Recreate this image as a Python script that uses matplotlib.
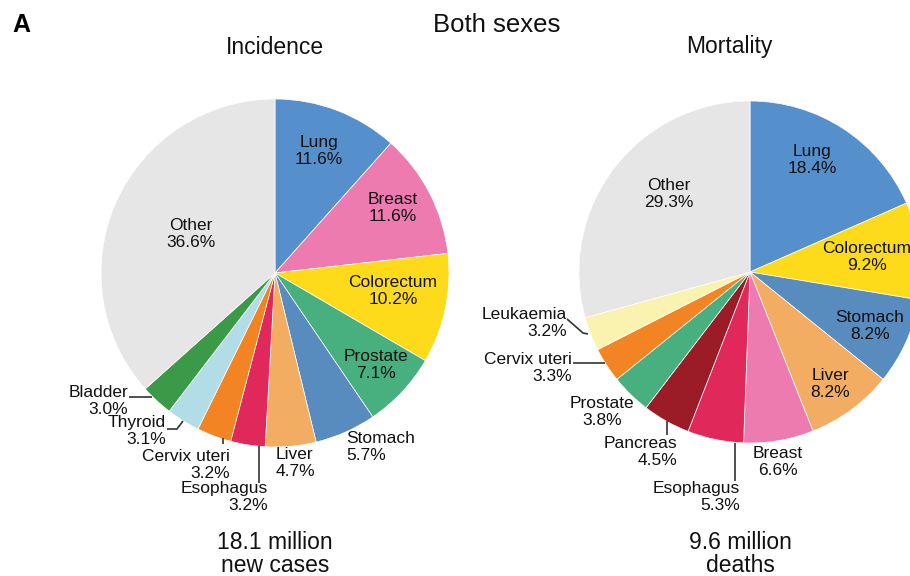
import matplotlib
matplotlib.use("Agg")
import matplotlib.pyplot as plt

plt.rcParams['font.family'] = ['Liberation Sans', 'DejaVu Sans']

# ---------------- data ----------------
inc_labels = ["Lung", "Breast", "Colorectum", "Prostate", "Stomach", "Liver",
              "Esophagus", "Cervix uteri", "Thyroid", "Bladder", "Other"]
inc_values = [11.6, 11.6, 10.2, 7.1, 5.7, 4.7, 3.2, 3.2, 3.1, 3.0, 36.6]

mort_labels = ["Lung", "Colorectum", "Stomach", "Liver", "Breast", "Esophagus",
               "Pancreas", "Prostate", "Cervix uteri", "Leukaemia", "Other"]
mort_values = [18.4, 9.2, 8.2, 8.2, 6.6, 5.3, 4.5, 3.8, 3.3, 3.2, 29.3]

inc_total = "18.1 million\nnew cases"
mort_total = "9.6 million\ndeaths"

# ---------------- styles ----------------
palette = {
    "Lung": "#5690CC", "Breast": "#EE7BB0", "Colorectum": "#FDDB1B",
    "Prostate": "#48AF7E", "Stomach": "#588BBE", "Liver": "#F2AD63",
    "Esophagus": "#E0295A", "Cervix uteri": "#F38424", "Thyroid": "#B3DDE6",
    "Bladder": "#3A9A48", "Other": "#E6E6E6", "Pancreas": "#9B1B27",
    "Leukaemia": "#FAF3B0",
}

W, H = 910, 576
fig = plt.figure(figsize=(W / 100, H / 100), dpi=100)
ax = fig.add_axes([0, 0, 1, 1])


def P(x, y):
    """pixel (top-left origin) -> data coords"""
    return x, H - y


# label layout (pixel positions of label centres / anchors), leader lines
inc_layout = {
    "Lung": (319, 151, "center"), "Breast": (393, 208, "center"),
    "Colorectum": (393, 291, "center"), "Prostate": (376, 365, "center"),
    "Other": (191, 234, "center"),
    "Stomach": (346, 447, "left"), "Liver": (276, 463, "left"),
    "Esophagus": (268, 497, "right"), "Cervix uteri": (230, 465, "right"),
    "Thyroid": (166, 431, "right"), "Bladder": (128, 401, "right"),
}
inc_leaders = [
    [(129, 397), (152, 397)],
    [(167, 429), (177, 429), (183, 421)],
    [(223, 438), (223, 444)],
    [(259, 446), (259, 483)],
]
mort_layout = {
    "Lung": (812, 160, "center"), "Colorectum": (867, 257, "center"),
    "Stomach": (870, 326, "center"), "Liver": (830, 384, "center"),
    "Other": (669, 194, "center"), "Breast": (778, 462, "center"),
    "Esophagus": (740, 497, "right"), "Pancreas": (677, 452, "right"),
    "Prostate": (602, 412, "center"), "Cervix uteri": (572, 368, "right"),
    "Leukaemia": (567, 323, "right"),
}
mort_leaders = [
    [(735, 443), (735, 481)],
    [(667, 421), (667, 435)],
    [(573, 363), (605, 363)],
    [(567, 319), (583, 333), (588, 334)],
]

pies = [
    (inc_labels, inc_values, (275, 273), 174, inc_layout, inc_leaders),
    (mort_labels, mort_values, (750, 272), 171, mort_layout, mort_leaders),
]

for labels, values, c, r, layout, leaders in pies:
    ax.pie(values, colors=[palette[l] for l in labels], startangle=90,
           counterclock=False, radius=r, center=P(*c),
           wedgeprops=dict(edgecolor="white", linewidth=0.5))
    for lab, val in zip(labels, values):
        x, y, ha = layout[lab]
        ax.text(*P(x, y), f"{lab}\n{val:.1f}%", ha=ha, va="center",
                fontsize=12.5, color="#111111", linespacing=1.1)
    for pts in leaders:
        xs = [p[0] for p in pts]
        ys = [H - p[1] for p in pts]
        ax.plot(xs, ys, color="#333333", lw=1.2, solid_capstyle="butt")

ax.set_xlim(0, W)
ax.set_ylim(0, H)
ax.set_aspect("auto")
ax.axis("off")

ax.text(*P(12, 25), "A", fontsize=18, fontweight="bold", ha="left", va="center",
        color="black")
ax.text(*P(497, 25), "Both sexes", fontsize=18.5, ha="center", va="center",
        color="#111111")
ax.text(*P(275, 47), "Incidence", fontsize=16.5, ha="center", va="center",
        color="#111111")
ax.text(*P(729, 47), "Mortality", fontsize=16.5, ha="center", va="center",
        color="#111111")
ax.text(*P(275, 554), inc_total, fontsize=16.5, ha="center", va="center",
        color="#111111", linespacing=1.0)
ax.text(*P(740, 554), mort_total, fontsize=16.5, ha="center", va="center",
        color="#111111", linespacing=1.0)

fig.savefig("out.png", dpi=100)
